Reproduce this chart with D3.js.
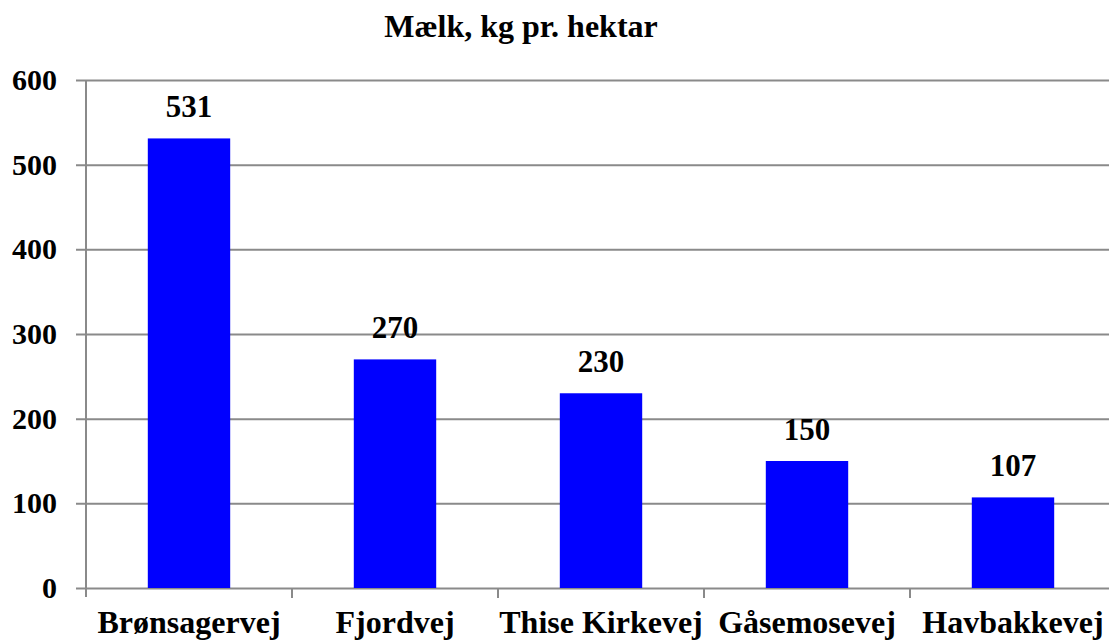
<!DOCTYPE html>
<html>
<head>
<meta charset="utf-8">
<script src="https://cdn.jsdelivr.net/npm/d3@7"></script>
<style>
  html, body { margin: 0; padding: 0; background: #fff; }
  svg { display: block; }
  text { font-family: "Liberation Serif", "Times New Roman", serif; font-weight: bold; fill: #000; }
</style>
</head>
<body>
<svg id="chart" width="1109" height="644"></svg>
<script>
// Milk yield per hectare by farm road
const categories = ["Brønsagervej", "Fjordvej", "Thise Kirkevej", "Gåsemosevej", "Havbakkevej"];
const values = [531, 270, 230, 150, 107];
const yTicks = [0, 100, 200, 300, 400, 500, 600];
const title = "Mælk, kg pr. hektar";

const svg = d3.select("#chart");
const plotLeft = 86, plotRight = 1116, plotTop = 80, plotBottom = 588;
const gridColor = "#8a8a8a";

const x = d3.scaleBand()
  .domain(categories)
  .range([plotLeft, plotRight])
  .paddingInner(0.6)
  .paddingOuter(0.3);

const y = d3.scaleLinear()
  .domain([0, 600])
  .range([plotBottom, plotTop]);

// Horizontal gridlines with outside tick stubs and value labels
const yAxis = svg.append("g")
  .attr("transform", `translate(${plotLeft - 10},0)`)
  .call(d3.axisLeft(y)
    .tickValues(yTicks)
    .tickSizeInner(-(plotRight - plotLeft + 10))
    .tickSizeOuter(0)
    .tickPadding(19)
    .tickFormat(d3.format("d")));
yAxis.select(".domain").remove();
yAxis.selectAll(".tick line").attr("stroke", gridColor).attr("stroke-width", 2);
yAxis.selectAll(".tick text")
  .style("font-size", "30px")
  .style("font-family", "'Liberation Serif', serif")
  .style("font-weight", "bold")
  .attr("fill", "#000");

// Vertical value axis line
svg.append("line")
  .attr("x1", plotLeft).attr("x2", plotLeft)
  .attr("y1", plotTop).attr("y2", plotBottom + 9)
  .attr("stroke", gridColor).attr("stroke-width", 2);

// Category separators below the baseline
const step = x.step();
categories.forEach(c => {
  const bx = x(c) + x.bandwidth() / 2 + step / 2;
  svg.append("line")
    .attr("x1", bx).attr("x2", bx)
    .attr("y1", plotBottom).attr("y2", plotBottom + 10)
    .attr("stroke", gridColor).attr("stroke-width", 2);
});

// Category labels
const xAxis = svg.append("g")
  .attr("transform", `translate(0,${plotBottom})`)
  .call(d3.axisBottom(x).tickSize(0).tickPadding(22));
xAxis.select(".domain").remove();
xAxis.selectAll(".tick text")
  .style("font-size", "32px")
  .style("font-family", "'Liberation Serif', serif")
  .style("font-weight", "bold")
  .attr("fill", "#000");

// Bars
svg.append("g").selectAll("rect")
  .data(values)
  .join("rect")
  .attr("x", (d, i) => x(categories[i]))
  .attr("y", d => y(d))
  .attr("width", x.bandwidth())
  .attr("height", d => y(0) - y(d))
  .attr("fill", "#0000ff");

// Value labels above bars
svg.append("g").selectAll("text")
  .data(values)
  .join("text")
  .attr("x", (d, i) => x(categories[i]) + x.bandwidth() / 2)
  .attr("y", d => y(d) - 21)
  .attr("text-anchor", "middle")
  .style("font-size", "31px")
  .text(d => d);

// Title
svg.append("text")
  .attr("x", 521)
  .attr("y", 37)
  .attr("text-anchor", "middle")
  .style("font-size", "32px")
  .text(title);
</script>
</body>
</html>
